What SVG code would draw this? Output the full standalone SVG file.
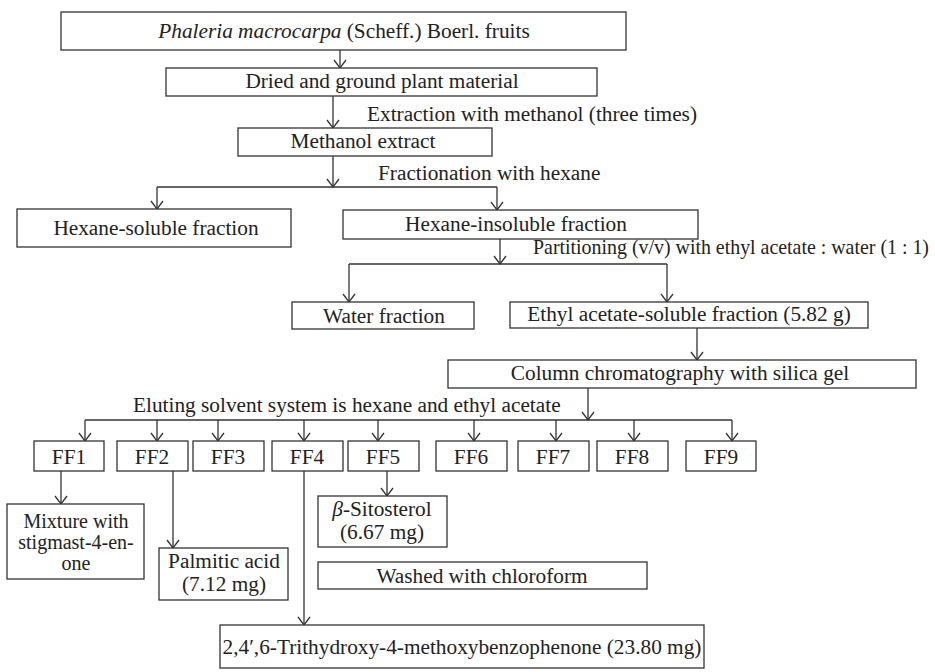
<svg xmlns="http://www.w3.org/2000/svg" width="935" height="672" viewBox="0 0 935 672">
<style>
.b{fill:#fff;stroke:#333;stroke-width:1.3}
.t{font-family:"Liberation Serif","Times New Roman",serif;font-size:21.3px;fill:#222}
.s{font-size:20px}
.m{text-anchor:middle}
.c line{stroke:#333;stroke-width:1.3}
.a{marker-end:url(#ah)}
</style>
<defs>
<marker id="ah" markerUnits="userSpaceOnUse" viewBox="-10 -8 12 16" refX="0" refY="0" markerWidth="12" markerHeight="16" orient="auto">
<path d="M-8,-6 L0,0 L-8,6" fill="none" stroke="#333" stroke-width="1.3"/>
</marker>
</defs>
<rect width="935" height="672" fill="#fff"/>
<g class="c" id="connectors">
<line class="a" x1="340" y1="50" x2="340" y2="68"/>
<line class="a" x1="333" y1="96" x2="333" y2="128"/>
<line class="a" x1="333" y1="156" x2="333" y2="187"/>
<line x1="157" y1="187" x2="497" y2="187"/>
<line class="a" x1="157" y1="187" x2="157" y2="209"/>
<line class="a" x1="497" y1="187" x2="497" y2="210"/>
<line class="a" x1="500" y1="239" x2="500" y2="264"/>
<line x1="349" y1="264" x2="667" y2="264"/>
<line class="a" x1="349" y1="264" x2="349" y2="302"/>
<line class="a" x1="667" y1="264" x2="667" y2="302"/>
<line class="a" x1="697" y1="328" x2="697" y2="360"/>
<line class="a" x1="588" y1="388" x2="588" y2="420"/>
<line x1="85" y1="420" x2="732" y2="420"/>
<line class="a" x1="85" y1="420" x2="85" y2="441"/>
<line class="a" x1="157" y1="420" x2="157" y2="441"/>
<line class="a" x1="218" y1="420" x2="218" y2="441"/>
<line class="a" x1="304" y1="420" x2="304" y2="441"/>
<line class="a" x1="378" y1="420" x2="378" y2="441"/>
<line class="a" x1="474" y1="420" x2="474" y2="441"/>
<line class="a" x1="556" y1="420" x2="556" y2="441"/>
<line class="a" x1="634" y1="420" x2="634" y2="441"/>
<line class="a" x1="732" y1="420" x2="732" y2="441"/>
<line class="a" x1="61" y1="471" x2="61" y2="504"/>
<line class="a" x1="173" y1="471" x2="173" y2="548"/>
<line class="a" x1="387" y1="471" x2="387" y2="496"/>
<line class="a" x1="304" y1="471" x2="304" y2="625"/>
</g>
<g id="labels">
<text class="t" x="533" y="254" style="font-size:20.2px" textLength="396" lengthAdjust="spacingAndGlyphs">Partitioning (v/v) with ethyl acetate : water (1 : 1)</text>
<text class="t" x="367" y="121">Extraction with methanol (three times)</text>
<text class="t" x="378" y="180">Fractionation with hexane</text>
<text class="t" x="133" y="412">Eluting solvent system is hexane and ethyl acetate</text>
</g>
<g id="n1"><rect class="b" x="61" y="12" width="565" height="38"/><text class="t m" x="344" y="38"><tspan font-style="italic">Phaleria macrocarpa</tspan> (Scheff.) Boerl. fruits</text></g>
<g id="n2"><rect class="b" x="166" y="68" width="431" height="28"/><text class="t m" x="382" y="88">Dried and ground plant material</text></g>
<g id="n3"><rect class="b" x="238" y="128" width="254" height="28"/><text class="t m" x="363" y="148">Methanol extract</text></g>
<g id="n4"><rect class="b" x="17" y="209" width="274" height="38"/><text class="t m" x="156" y="235">Hexane-soluble fraction</text></g>
<g id="n5"><rect class="b" x="343" y="210" width="355" height="29"/><text class="t m" x="516" y="231">Hexane-insoluble fraction</text></g>
<g id="n6"><rect class="b" x="292" y="302" width="182" height="27"/><text class="t m" x="384" y="323">Water fraction</text></g>
<g id="n7"><rect class="b" x="510" y="302" width="358" height="26"/><text class="t m" x="689" y="321">Ethyl acetate-soluble fraction (5.82 g)</text></g>
<g id="n8"><rect class="b" x="448" y="360" width="468" height="28"/><text class="t m" x="680" y="380">Column chromatography with silica gel</text></g>
<g id="ff1"><rect class="b" x="34" y="441" width="70" height="30"/><text class="t m" x="69" y="464">FF1</text></g>
<g id="ff2"><rect class="b" x="117" y="441" width="71" height="30"/><text class="t m" x="152" y="464">FF2</text></g>
<g id="ff3"><rect class="b" x="193" y="441" width="71" height="30"/><text class="t m" x="228" y="464">FF3</text></g>
<g id="ff4"><rect class="b" x="272" y="441" width="71" height="30"/><text class="t m" x="307" y="464">FF4</text></g>
<g id="ff5"><rect class="b" x="348" y="441" width="71" height="30"/><text class="t m" x="383" y="464">FF5</text></g>
<g id="ff6"><rect class="b" x="436" y="441" width="71" height="30"/><text class="t m" x="471" y="464">FF6</text></g>
<g id="ff7"><rect class="b" x="518" y="441" width="71" height="30"/><text class="t m" x="553" y="464">FF7</text></g>
<g id="ff8"><rect class="b" x="597" y="441" width="71" height="30"/><text class="t m" x="632" y="464">FF8</text></g>
<g id="ff9"><rect class="b" x="686" y="441" width="70" height="30"/><text class="t m" x="721" y="464">FF9</text></g>
<g id="n9"><rect class="b" x="7" y="504" width="137" height="75"/><text class="t s m" x="76" y="528">Mixture with</text><text class="t s m" x="76" y="549">stigmast-4-en-</text><text class="t s m" x="76" y="570">one</text></g>
<g id="n10"><rect class="b" x="159" y="548" width="129" height="52"/><text class="t m" x="224" y="568">Palmitic acid</text><text class="t m" x="224" y="591">(7.12 mg)</text></g>
<g id="n11"><rect class="b" x="318" y="496" width="129" height="51"/><text class="t m" x="382" y="516"><tspan font-style="italic">β</tspan>-Sitosterol</text><text class="t m" x="382" y="539">(6.67 mg)</text></g>
<g id="n12"><rect class="b" x="318" y="562" width="329" height="27"/><text class="t m" x="482" y="583">Washed with chloroform</text></g>
<g id="n13"><rect class="b" x="220" y="625" width="484" height="43"/><text class="t m" x="462" y="654">2,4′,6-Trithydroxy-4-methoxybenzophenone (23.80 mg)</text></g>
</svg>
